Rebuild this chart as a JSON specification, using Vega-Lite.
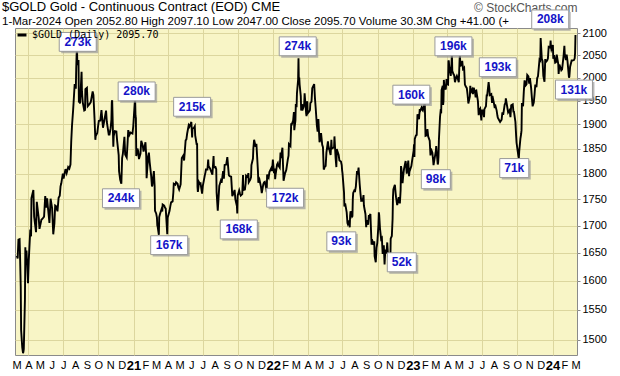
{
"$schema": "https://vega.github.io/schema/vega-lite/v6.json",
"width": 562,
"height": 327,
"autosize": {"type": "none"},
"padding": {"left": 15, "top": 28, "right": 43, "bottom": 21},
"background": "white",
"title": {
  "text": "$GOLD Gold - Continuous Contract (EOD) CME",
  "subtitle": "1-Mar-2024  Open 2052.80  High 2097.10  Low 2047.00  Close 2095.70  Volume 30.3M  Chg +41.00 (+",
  "anchor": "start", "frame": "group", "dx": -13, "offset": -26,
  "font": "Liberation Sans", "fontSize": 13, "fontWeight": "normal", "color": "black",
  "subtitleFont": "Liberation Sans", "subtitleFontSize": 11.5, "subtitleColor": "black", "subtitlePadding": 2
},
"config": {
  "view": {"fill": "#f8f5c6", "stroke": "#8a8a8a", "strokeWidth": 1},
  "font": "Liberation Sans"
},
"datasets": {
"price": [
{"d":"2020-03-02","p":1645},{"d":"2020-03-04","p":1640},{"d":"2020-03-06","p":1674},{"d":"2020-03-09","p":1675},{"d":"2020-03-10","p":1650},{"d":"2020-03-12","p":1590},{"d":"2020-03-13","p":1516},{"d":"2020-03-16","p":1487},{"d":"2020-03-18","p":1478},{"d":"2020-03-19","p":1480},{"d":"2020-03-20","p":1485},{"d":"2020-03-23","p":1568},{"d":"2020-03-24","p":1660},{"d":"2020-03-25","p":1634},{"d":"2020-03-27","p":1654},{"d":"2020-03-31","p":1596},{"d":"2020-04-02","p":1637},{"d":"2020-04-06","p":1693},{"d":"2020-04-08","p":1680},{"d":"2020-04-09","p":1752},{"d":"2020-04-14","p":1768},{"d":"2020-04-16","p":1717},{"d":"2020-04-21","p":1688},{"d":"2020-04-23","p":1745},{"d":"2020-04-28","p":1714},{"d":"2020-04-30","p":1694},{"d":"2020-05-05","p":1711},{"d":"2020-05-08","p":1713},{"d":"2020-05-12","p":1717},{"d":"2020-05-15","p":1756},{"d":"2020-05-18","p":1734},{"d":"2020-05-20","p":1752},{"d":"2020-05-22","p":1735},{"d":"2020-05-26","p":1705},{"d":"2020-05-29","p":1751},{"d":"2020-06-02","p":1733},{"d":"2020-06-05","p":1684},{"d":"2020-06-08","p":1704},{"d":"2020-06-10","p":1738},{"d":"2020-06-12","p":1737},{"d":"2020-06-16","p":1727},{"d":"2020-06-19","p":1753},{"d":"2020-06-22","p":1757},{"d":"2020-06-24","p":1775},{"d":"2020-06-26","p":1781},{"d":"2020-06-30","p":1800},{"d":"2020-07-02","p":1790},{"d":"2020-07-07","p":1809},{"d":"2020-07-10","p":1801},{"d":"2020-07-14","p":1813},{"d":"2020-07-17","p":1810},{"d":"2020-07-20","p":1818},{"d":"2020-07-21","p":1842},{"d":"2020-07-22","p":1865},{"d":"2020-07-24","p":1897},{"d":"2020-07-27","p":1931},{"d":"2020-07-28","p":1944},{"d":"2020-07-31","p":1986},{"d":"2020-08-03","p":1976},{"d":"2020-08-04","p":2019},{"d":"2020-08-05","p":2049},{"d":"2020-08-06","p":2069},{"d":"2020-08-07","p":2028},{"d":"2020-08-10","p":2039},{"d":"2020-08-11","p":1946},{"d":"2020-08-12","p":1949},{"d":"2020-08-14","p":1944},{"d":"2020-08-18","p":2013},{"d":"2020-08-19","p":1970},{"d":"2020-08-21","p":1947},{"d":"2020-08-25","p":1929},{"d":"2020-08-27","p":1930},{"d":"2020-08-28","p":1975},{"d":"2020-09-01","p":1978},{"d":"2020-09-03","p":1938},{"d":"2020-09-08","p":1943},{"d":"2020-09-11","p":1947},{"d":"2020-09-16","p":1970},{"d":"2020-09-18","p":1962},{"d":"2020-09-21","p":1910},{"d":"2020-09-23","p":1868},{"d":"2020-09-24","p":1876},{"d":"2020-09-28","p":1882},{"d":"2020-09-30","p":1895},{"d":"2020-10-02","p":1907},{"d":"2020-10-06","p":1908},{"d":"2020-10-09","p":1930},{"d":"2020-10-13","p":1893},{"d":"2020-10-16","p":1906},{"d":"2020-10-21","p":1929},{"d":"2020-10-23","p":1905},{"d":"2020-10-28","p":1879},{"d":"2020-10-30","p":1879},{"d":"2020-11-02","p":1892},{"d":"2020-11-04","p":1910},{"d":"2020-11-05","p":1946},{"d":"2020-11-06","p":1951},{"d":"2020-11-09","p":1854},{"d":"2020-11-10","p":1876},{"d":"2020-11-13","p":1886},{"d":"2020-11-17","p":1885},{"d":"2020-11-19","p":1866},{"d":"2020-11-23","p":1837},{"d":"2020-11-24","p":1805},{"d":"2020-11-27","p":1788},{"d":"2020-11-30","p":1780},{"d":"2020-12-02","p":1831},{"d":"2020-12-04","p":1840},{"d":"2020-12-08","p":1874},{"d":"2020-12-10","p":1838},{"d":"2020-12-14","p":1832},{"d":"2020-12-16","p":1858},{"d":"2020-12-18","p":1888},{"d":"2020-12-21","p":1878},{"d":"2020-12-24","p":1883},{"d":"2020-12-29","p":1881},{"d":"2020-12-31","p":1895},
{"d":"2021-01-04","p":1946},{"d":"2021-01-05","p":1954},{"d":"2021-01-06","p":1918},{"d":"2021-01-07","p":1913},{"d":"2021-01-08","p":1835},{"d":"2021-01-11","p":1850},{"d":"2021-01-13","p":1845},{"d":"2021-01-15","p":1829},{"d":"2021-01-19","p":1840},{"d":"2021-01-21","p":1866},{"d":"2021-01-25","p":1856},{"d":"2021-01-27","p":1844},{"d":"2021-01-29","p":1850},{"d":"2021-02-01","p":1863},{"d":"2021-02-03","p":1835},{"d":"2021-02-04","p":1791},{"d":"2021-02-08","p":1834},{"d":"2021-02-10","p":1842},{"d":"2021-02-12","p":1823},{"d":"2021-02-16","p":1795},{"d":"2021-02-18","p":1775},{"d":"2021-02-19","p":1777},{"d":"2021-02-23","p":1805},{"d":"2021-02-25","p":1775},{"d":"2021-02-26","p":1728},{"d":"2021-03-01","p":1723},{"d":"2021-03-03","p":1715},{"d":"2021-03-04","p":1700},{"d":"2021-03-05","p":1698},{"d":"2021-03-08","p":1683},{"d":"2021-03-09","p":1716},{"d":"2021-03-11","p":1722},{"d":"2021-03-15","p":1731},{"d":"2021-03-17","p":1727},{"d":"2021-03-18","p":1740},{"d":"2021-03-22","p":1738},{"d":"2021-03-24","p":1734},{"d":"2021-03-26","p":1732},{"d":"2021-03-30","p":1684},{"d":"2021-03-31","p":1715},{"d":"2021-04-05","p":1728},{"d":"2021-04-07","p":1737},{"d":"2021-04-09","p":1744},{"d":"2021-04-13","p":1746},{"d":"2021-04-15","p":1764},{"d":"2021-04-16","p":1780},{"d":"2021-04-20","p":1778},{"d":"2021-04-22","p":1783},{"d":"2021-04-26","p":1780},{"d":"2021-04-28","p":1773},{"d":"2021-04-30","p":1769},{"d":"2021-05-04","p":1779},{"d":"2021-05-06","p":1815},{"d":"2021-05-07","p":1831},{"d":"2021-05-11","p":1836},{"d":"2021-05-13","p":1826},{"d":"2021-05-17","p":1867},{"d":"2021-05-19","p":1869},{"d":"2021-05-21","p":1881},{"d":"2021-05-25","p":1898},{"d":"2021-05-27","p":1895},{"d":"2021-06-01","p":1905},{"d":"2021-06-03","p":1873},{"d":"2021-06-04","p":1891},{"d":"2021-06-08","p":1893},{"d":"2021-06-10","p":1896},{"d":"2021-06-11","p":1877},{"d":"2021-06-15","p":1858},{"d":"2021-06-16","p":1861},{"d":"2021-06-17","p":1774},{"d":"2021-06-18","p":1764},{"d":"2021-06-21","p":1783},{"d":"2021-06-23","p":1780},{"d":"2021-06-25","p":1781},{"d":"2021-06-29","p":1761},{"d":"2021-07-01","p":1776},{"d":"2021-07-06","p":1796},{"d":"2021-07-08","p":1803},{"d":"2021-07-09","p":1808},{"d":"2021-07-13","p":1808},{"d":"2021-07-15","p":1828},{"d":"2021-07-16","p":1815},{"d":"2021-07-20","p":1810},{"d":"2021-07-22","p":1806},{"d":"2021-07-26","p":1798},{"d":"2021-07-29","p":1835},{"d":"2021-07-30","p":1812},{"d":"2021-08-03","p":1813},{"d":"2021-08-05","p":1809},{"d":"2021-08-06","p":1763},{"d":"2021-08-09","p":1728},{"d":"2021-08-11","p":1752},{"d":"2021-08-13","p":1776},{"d":"2021-08-17","p":1786},{"d":"2021-08-19","p":1782},{"d":"2021-08-23","p":1805},{"d":"2021-08-25","p":1790},{"d":"2021-08-27","p":1817},{"d":"2021-08-31","p":1818},{"d":"2021-09-03","p":1833},{"d":"2021-09-07","p":1797},{"d":"2021-09-09","p":1795},{"d":"2021-09-13","p":1794},{"d":"2021-09-16","p":1756},{"d":"2021-09-20","p":1763},{"d":"2021-09-22","p":1768},{"d":"2021-09-24","p":1750},{"d":"2021-09-28","p":1737},{"d":"2021-09-29","p":1723},{"d":"2021-09-30","p":1757},{"d":"2021-10-04","p":1767},{"d":"2021-10-06","p":1761},{"d":"2021-10-08","p":1757},{"d":"2021-10-12","p":1760},{"d":"2021-10-14","p":1797},{"d":"2021-10-15","p":1768},{"d":"2021-10-19","p":1769},{"d":"2021-10-21","p":1781},{"d":"2021-10-22","p":1796},{"d":"2021-10-26","p":1793},{"d":"2021-10-28","p":1801},{"d":"2021-10-29","p":1783},{"d":"2021-11-02","p":1788},{"d":"2021-11-04","p":1793},{"d":"2021-11-05","p":1817},{"d":"2021-11-09","p":1830},{"d":"2021-11-10","p":1850},{"d":"2021-11-12","p":1868},{"d":"2021-11-16","p":1854},{"d":"2021-11-18","p":1860},{"d":"2021-11-22","p":1805},{"d":"2021-11-23","p":1782},{"d":"2021-11-26","p":1788},{"d":"2021-11-30","p":1774},{"d":"2021-12-02","p":1762},{"d":"2021-12-06","p":1779},{"d":"2021-12-08","p":1783},{"d":"2021-12-10","p":1784},{"d":"2021-12-14","p":1770},{"d":"2021-12-15","p":1764},{"d":"2021-12-16","p":1798},{"d":"2021-12-20","p":1792},{"d":"2021-12-22","p":1803},{"d":"2021-12-27","p":1811},{"d":"2021-12-29","p":1805},{"d":"2021-12-31","p":1828},
{"d":"2022-01-03","p":1801},{"d":"2022-01-05","p":1810},{"d":"2022-01-06","p":1789},{"d":"2022-01-07","p":1797},{"d":"2022-01-11","p":1818},{"d":"2022-01-13","p":1821},{"d":"2022-01-14","p":1817},{"d":"2022-01-18","p":1812},{"d":"2022-01-20","p":1842},{"d":"2022-01-21","p":1831},{"d":"2022-01-25","p":1852},{"d":"2022-01-26","p":1829},{"d":"2022-01-28","p":1786},{"d":"2022-02-01","p":1801},{"d":"2022-02-03","p":1805},{"d":"2022-02-04","p":1807},{"d":"2022-02-08","p":1828},{"d":"2022-02-10","p":1836},{"d":"2022-02-11","p":1859},{"d":"2022-02-15","p":1855},{"d":"2022-02-17","p":1902},{"d":"2022-02-18","p":1899},{"d":"2022-02-22","p":1908},{"d":"2022-02-24","p":1926},{"d":"2022-02-25","p":1888},{"d":"2022-02-28","p":1908},{"d":"2022-03-01","p":1943},{"d":"2022-03-03","p":1936},{"d":"2022-03-04","p":1966},{"d":"2022-03-07","p":1995},{"d":"2022-03-08","p":2043},{"d":"2022-03-09","p":1988},{"d":"2022-03-10","p":2000},{"d":"2022-03-11","p":1985},{"d":"2022-03-14","p":1960},{"d":"2022-03-15","p":1929},{"d":"2022-03-17","p":1943},{"d":"2022-03-18","p":1929},{"d":"2022-03-21","p":1936},{"d":"2022-03-23","p":1944},{"d":"2022-03-24","p":1966},{"d":"2022-03-28","p":1923},{"d":"2022-03-29","p":1917},{"d":"2022-03-31","p":1949},{"d":"2022-04-01","p":1923},{"d":"2022-04-05","p":1927},{"d":"2022-04-07","p":1930},{"d":"2022-04-08","p":1945},{"d":"2022-04-11","p":1948},{"d":"2022-04-13","p":1977},{"d":"2022-04-18","p":1986},{"d":"2022-04-20","p":1956},{"d":"2022-04-22","p":1934},{"d":"2022-04-25","p":1898},{"d":"2022-04-27","p":1885},{"d":"2022-04-29","p":1911},{"d":"2022-05-02","p":1863},{"d":"2022-05-04","p":1869},{"d":"2022-05-06","p":1882},{"d":"2022-05-09","p":1858},{"d":"2022-05-11","p":1853},{"d":"2022-05-13","p":1808},{"d":"2022-05-16","p":1814},{"d":"2022-05-18","p":1815},{"d":"2022-05-20","p":1842},{"d":"2022-05-24","p":1865},{"d":"2022-05-26","p":1848},{"d":"2022-05-27","p":1850},{"d":"2022-05-31","p":1837},{"d":"2022-06-02","p":1868},{"d":"2022-06-03","p":1850},{"d":"2022-06-07","p":1852},{"d":"2022-06-09","p":1852},{"d":"2022-06-10","p":1875},{"d":"2022-06-13","p":1831},{"d":"2022-06-15","p":1813},{"d":"2022-06-16","p":1849},{"d":"2022-06-21","p":1837},{"d":"2022-06-23","p":1826},{"d":"2022-06-27","p":1824},{"d":"2022-06-29","p":1817},{"d":"2022-06-30","p":1807},{"d":"2022-07-01","p":1801},{"d":"2022-07-05","p":1763},{"d":"2022-07-06","p":1736},{"d":"2022-07-08","p":1742},{"d":"2022-07-12","p":1725},{"d":"2022-07-14","p":1705},{"d":"2022-07-15","p":1703},{"d":"2022-07-18","p":1710},{"d":"2022-07-20","p":1697},{"d":"2022-07-21","p":1719},{"d":"2022-07-22","p":1727},{"d":"2022-07-26","p":1717},{"d":"2022-07-27","p":1718},{"d":"2022-07-28","p":1750},{"d":"2022-07-29","p":1762},{"d":"2022-08-01","p":1767},{"d":"2022-08-03","p":1766},{"d":"2022-08-05","p":1775},{"d":"2022-08-08","p":1805},{"d":"2022-08-10","p":1798},{"d":"2022-08-12","p":1812},{"d":"2022-08-15","p":1779},{"d":"2022-08-17","p":1761},{"d":"2022-08-19","p":1747},{"d":"2022-08-23","p":1748},{"d":"2022-08-25","p":1758},{"d":"2022-08-26","p":1738},{"d":"2022-08-30","p":1722},{"d":"2022-09-01","p":1697},{"d":"2022-09-02","p":1710},{"d":"2022-09-06","p":1702},{"d":"2022-09-08","p":1720},{"d":"2022-09-09","p":1717},{"d":"2022-09-12","p":1722},{"d":"2022-09-13","p":1702},{"d":"2022-09-15","p":1665},{"d":"2022-09-16","p":1675},{"d":"2022-09-20","p":1665},{"d":"2022-09-22","p":1671},{"d":"2022-09-23","p":1644},{"d":"2022-09-26","p":1633},{"d":"2022-09-28","p":1659},{"d":"2022-09-30","p":1668},{"d":"2022-10-03","p":1702},{"d":"2022-10-04","p":1725},{"d":"2022-10-05","p":1720},{"d":"2022-10-07","p":1695},{"d":"2022-10-10","p":1675},{"d":"2022-10-12","p":1677},{"d":"2022-10-14","p":1648},{"d":"2022-10-17","p":1664},{"d":"2022-10-19","p":1629},{"d":"2022-10-21","p":1656},{"d":"2022-10-24","p":1649},{"d":"2022-10-26","p":1669},{"d":"2022-10-28","p":1645},{"d":"2022-10-31","p":1640},{"d":"2022-11-03","p":1630},{"d":"2022-11-04","p":1676},{"d":"2022-11-07","p":1681},{"d":"2022-11-09","p":1713},{"d":"2022-11-10","p":1755},{"d":"2022-11-11","p":1769},{"d":"2022-11-14","p":1776},{"d":"2022-11-15","p":1778},{"d":"2022-11-17","p":1761},{"d":"2022-11-18","p":1754},{"d":"2022-11-21","p":1739},{"d":"2022-11-23","p":1745},{"d":"2022-11-25","p":1754},{"d":"2022-11-28","p":1742},{"d":"2022-11-30","p":1768},{"d":"2022-12-01","p":1815},{"d":"2022-12-02","p":1810},{"d":"2022-12-05","p":1781},{"d":"2022-12-07","p":1798},{"d":"2022-12-09","p":1810},{"d":"2022-12-13","p":1825},{"d":"2022-12-14","p":1818},{"d":"2022-12-16","p":1800},{"d":"2022-12-20","p":1826},{"d":"2022-12-22","p":1795},{"d":"2022-12-23","p":1804},{"d":"2022-12-28","p":1815},{"d":"2022-12-30","p":1826},
{"d":"2023-01-03","p":1846},{"d":"2023-01-04","p":1859},{"d":"2023-01-05","p":1833},{"d":"2023-01-06","p":1870},{"d":"2023-01-09","p":1877},{"d":"2023-01-11","p":1878},{"d":"2023-01-13","p":1921},{"d":"2023-01-17","p":1911},{"d":"2023-01-19","p":1932},{"d":"2023-01-20","p":1928},{"d":"2023-01-24","p":1936},{"d":"2023-01-26","p":1930},{"d":"2023-01-27","p":1929},{"d":"2023-01-31","p":1942},{"d":"2023-02-01","p":1951},{"d":"2023-02-02","p":1912},{"d":"2023-02-03","p":1876},{"d":"2023-02-06","p":1877},{"d":"2023-02-08","p":1890},{"d":"2023-02-10","p":1875},{"d":"2023-02-14","p":1866},{"d":"2023-02-16","p":1836},{"d":"2023-02-17","p":1850},{"d":"2023-02-21","p":1842},{"d":"2023-02-23","p":1826},{"d":"2023-02-24","p":1817},{"d":"2023-02-28","p":1836},{"d":"2023-03-02","p":1845},{"d":"2023-03-03","p":1855},{"d":"2023-03-07","p":1818},{"d":"2023-03-08","p":1822},{"d":"2023-03-09","p":1834},{"d":"2023-03-10","p":1867},{"d":"2023-03-13","p":1916},{"d":"2023-03-15","p":1932},{"d":"2023-03-16","p":1923},{"d":"2023-03-17","p":1973},{"d":"2023-03-20","p":1982},{"d":"2023-03-21","p":1941},{"d":"2023-03-22","p":1949},{"d":"2023-03-23","p":1995},{"d":"2023-03-24","p":1983},{"d":"2023-03-28","p":1974},{"d":"2023-03-30","p":1997},{"d":"2023-03-31","p":1986},{"d":"2023-04-03","p":1985},{"d":"2023-04-04","p":2038},{"d":"2023-04-05","p":2036},{"d":"2023-04-06","p":2025},{"d":"2023-04-10","p":2004},{"d":"2023-04-12","p":2030},{"d":"2023-04-13","p":2055},{"d":"2023-04-14","p":2015},{"d":"2023-04-17","p":2008},{"d":"2023-04-19","p":2005},{"d":"2023-04-21","p":1990},{"d":"2023-04-24","p":2000},{"d":"2023-04-26","p":2004},{"d":"2023-04-28","p":1999},{"d":"2023-05-01","p":1990},{"d":"2023-05-03","p":2037},{"d":"2023-05-04","p":2055},{"d":"2023-05-05","p":2025},{"d":"2023-05-08","p":2030},{"d":"2023-05-10","p":2037},{"d":"2023-05-12","p":2019},{"d":"2023-05-15","p":2022},{"d":"2023-05-17","p":1985},{"d":"2023-05-19","p":1981},{"d":"2023-05-22","p":1977},{"d":"2023-05-24","p":1963},{"d":"2023-05-26","p":1944},{"d":"2023-05-30","p":1959},{"d":"2023-05-31","p":1982},{"d":"2023-06-02","p":1969},{"d":"2023-06-05","p":1974},{"d":"2023-06-07","p":1964},{"d":"2023-06-09","p":1978},{"d":"2023-06-12","p":1971},{"d":"2023-06-14","p":1957},{"d":"2023-06-15","p":1970},{"d":"2023-06-16","p":1971},{"d":"2023-06-20","p":1949},{"d":"2023-06-22","p":1919},{"d":"2023-06-23","p":1929},{"d":"2023-06-26","p":1933},{"d":"2023-06-29","p":1908},{"d":"2023-06-30","p":1929},{"d":"2023-07-03","p":1929},{"d":"2023-07-06","p":1915},{"d":"2023-07-07","p":1932},{"d":"2023-07-11","p":1938},{"d":"2023-07-13","p":1963},{"d":"2023-07-14","p":1960},{"d":"2023-07-18","p":1990},{"d":"2023-07-20","p":1975},{"d":"2023-07-21","p":1962},{"d":"2023-07-25","p":1964},{"d":"2023-07-27","p":1945},{"d":"2023-07-28","p":1960},{"d":"2023-08-01","p":1944},{"d":"2023-08-03","p":1934},{"d":"2023-08-04","p":1942},{"d":"2023-08-08","p":1929},{"d":"2023-08-10","p":1918},{"d":"2023-08-11","p":1914},{"d":"2023-08-15","p":1908},{"d":"2023-08-17","p":1905},{"d":"2023-08-21","p":1910},{"d":"2023-08-23","p":1925},{"d":"2023-08-25","p":1920},{"d":"2023-08-29","p":1942},{"d":"2023-08-31","p":1945},{"d":"2023-09-01","p":1955},{"d":"2023-09-05","p":1935},{"d":"2023-09-07","p":1925},{"d":"2023-09-11","p":1930},{"d":"2023-09-13","p":1915},{"d":"2023-09-15","p":1940},{"d":"2023-09-19","p":1942},{"d":"2023-09-21","p":1925},{"d":"2023-09-22","p":1928},{"d":"2023-09-26","p":1905},{"d":"2023-09-28","p":1875},{"d":"2023-09-29","p":1862},{"d":"2023-10-02","p":1845},{"d":"2023-10-04","p":1834},{"d":"2023-10-05","p":1831},{"d":"2023-10-06","p":1845},{"d":"2023-10-09","p":1870},{"d":"2023-10-11","p":1880},{"d":"2023-10-12","p":1888},{"d":"2023-10-13","p":1945},{"d":"2023-10-16","p":1938},{"d":"2023-10-18","p":1970},{"d":"2023-10-20","p":1994},{"d":"2023-10-23","p":1983},{"d":"2023-10-25","p":1985},{"d":"2023-10-27","p":2006},{"d":"2023-10-30","p":2003},{"d":"2023-11-01","p":1987},{"d":"2023-11-03","p":1999},{"d":"2023-11-06","p":1978},{"d":"2023-11-08","p":1957},{"d":"2023-11-10","p":1938},{"d":"2023-11-13","p":1946},{"d":"2023-11-15","p":1963},{"d":"2023-11-17","p":1985},{"d":"2023-11-20","p":1979},{"d":"2023-11-22","p":1999},{"d":"2023-11-24","p":2003},{"d":"2023-11-28","p":2040},{"d":"2023-11-30","p":2038},{"d":"2023-12-01","p":2089},{"d":"2023-12-04","p":2042},{"d":"2023-12-06","p":2037},{"d":"2023-12-08","p":2004},{"d":"2023-12-11","p":1991},{"d":"2023-12-13","p":2041},{"d":"2023-12-15","p":2035},{"d":"2023-12-18","p":2038},{"d":"2023-12-20","p":2043},{"d":"2023-12-22","p":2069},{"d":"2023-12-26","p":2068},{"d":"2023-12-27","p":2083},{"d":"2023-12-28","p":2068},{"d":"2023-12-29","p":2063},
{"d":"2024-01-02","p":2073},{"d":"2024-01-03","p":2042},{"d":"2024-01-05","p":2050},{"d":"2024-01-08","p":2033},{"d":"2024-01-10","p":2034},{"d":"2024-01-12","p":2051},{"d":"2024-01-16","p":2030},{"d":"2024-01-17","p":2008},{"d":"2024-01-19","p":2029},{"d":"2024-01-22","p":2022},{"d":"2024-01-24","p":2016},{"d":"2024-01-26","p":2018},{"d":"2024-01-30","p":2049},{"d":"2024-02-01","p":2071},{"d":"2024-02-02","p":2053},{"d":"2024-02-05","p":2039},{"d":"2024-02-07","p":2051},{"d":"2024-02-09","p":2038},{"d":"2024-02-13","p":2000},{"d":"2024-02-14","p":2002},{"d":"2024-02-16","p":2024},{"d":"2024-02-20","p":2038},{"d":"2024-02-22","p":2038},{"d":"2024-02-26","p":2039},{"d":"2024-02-28","p":2043},{"d":"2024-02-29","p":2054.7},{"d":"2024-03-01","p":2095.7}
],
"notes": [
{"d":"2020-08-08","p":2080,"label":"273k"},
{"d":"2021-01-09","p":1970,"label":"280k"},
{"d":"2020-11-29","p":1752,"label":"244k"},
{"d":"2021-04-04","p":1664,"label":"167k"},
{"d":"2021-06-03","p":1937,"label":"215k"},
{"d":"2021-10-03","p":1693,"label":"168k"},
{"d":"2022-02-01","p":1753,"label":"172k"},
{"d":"2022-03-06","p":2070,"label":"274k"},
{"d":"2022-06-28","p":1671,"label":"93k"},
{"d":"2022-12-03","p":1633,"label":"52k"},
{"d":"2022-12-28","p":1963,"label":"160k"},
{"d":"2023-03-02","p":1789,"label":"98k"},
{"d":"2023-04-17","p":2070,"label":"196k"},
{"d":"2023-08-11","p":2023,"label":"193k"},
{"d":"2023-09-23","p":1811,"label":"71k"},
{"d":"2023-12-26","p":2132,"label":"208k"},
{"d":"2024-02-26","p":1974,"label":"131k"}
]
},
"encoding": {
  "x": {
    "field": "d", "type": "temporal",
    "scale": {"domain": [{"year": 2020, "month": 2, "date": 26}, {"year": 2024, "month": 3, "date": 5}]},
    "axis": {
      "title": null, "orient": "bottom", "domain": false, "ticks": false,
      "tickCount": {"interval": "month", "step": 1},
      "labelExpr": "month(datum.value) == 0 ? timeFormat(datum.value, '%y') : slice(timeFormat(datum.value, '%b'), 0, 1)",
      "labelFont": "Liberation Sans", "labelColor": "black", "labelPadding": 4,
      "labelFontSize": {"condition": {"test": "month(datum.value) == 0", "value": 13}, "value": 11},
      "labelFontWeight": {"condition": {"test": "month(datum.value) == 0", "value": "bold"}, "value": "normal"},
      "labelFlush": false, "labelOverlap": false, "labelBound": false,
      "grid": true, "gridColor": "#dcd69e", "gridWidth": 1,
      "gridOpacity": {"condition": {"test": "month(datum.value) % 3 == 0", "value": 1}, "value": 0}
    }
  },
  "y": {
    "field": "p", "type": "quantitative",
    "scale": {"type": "log", "domain": [1475, 2112], "nice": false, "zero": false},
    "axis": {
      "orient": "right", "domain": false, "tickSize": 3, "tickColor": "#8a8a8a",
      "values": [1500, 1550, 1600, 1650, 1700, 1750, 1800, 1850, 1900, 1950, 2000, 2050, 2100],
      "format": "d", "labelFont": "Liberation Sans", "labelFontSize": 11, "labelColor": "black", "labelPadding": 2,
      "grid": true, "gridColor": "#dcd69e",
      "title": "© StockCharts.com", "titleAngle": 0, "titleX": 0, "titleY": -21,
      "titleAlign": "right", "titleBaseline": "middle", "titleColor": "#555555",
      "titleFont": "Liberation Sans", "titleFontSize": 12, "titleFontWeight": "normal"
    }
  }
},
"layer": [
  {
    "data": {"name": "price"},
    "mark": {"type": "line", "strokeWidth": 1.9, "interpolate": "linear"},
    "encoding": {
      "color": {"datum": "$GOLD (Daily) 2095.70", "type": "nominal",
        "scale": {"range": ["black"]},
        "legend": {"title": null, "orient": "top-left", "offset": 0, "padding": 1,
          "labelFont": "DejaVu Sans Mono", "labelFontSize": 10, "labelColor": "black",
          "symbolType": "stroke", "symbolStrokeWidth": 3, "symbolSize": 80, "labelOffset": 4}}
    }
  },
  {
    "data": {"name": "notes"},
    "mark": {"type": "point", "filled": true, "fill": "#9a9a9a", "opacity": 0.7, "strokeWidth": 0, "xOffset": 2, "yOffset": 2},
    "encoding": {
      "shape": {"condition": {"test": "length(datum.label) > 3", "value": "M-1,-0.51H1V0.51H-1Z"}, "value": "M-1,-0.655H1V0.655H-1Z"},
      "size": {"condition": {"test": "length(datum.label) > 3", "value": 1369}, "value": 841}
    }
  },
  {
    "data": {"name": "notes"},
    "mark": {"type": "point", "filled": true, "fill": "white", "stroke": "#9a9a9a", "strokeWidth": 1, "opacity": 1},
    "encoding": {
      "shape": {"condition": {"test": "length(datum.label) > 3", "value": "M-1,-0.51H1V0.51H-1Z"}, "value": "M-1,-0.655H1V0.655H-1Z"},
      "size": {"condition": {"test": "length(datum.label) > 3", "value": 1369}, "value": 841}
    }
  },
  {
    "data": {"name": "notes"},
    "mark": {"type": "text", "font": "Liberation Sans", "fontSize": 12, "fontWeight": "bold", "color": "#1414c8", "align": "center", "baseline": "middle"},
    "encoding": {"text": {"field": "label"}}
  }
]
}
